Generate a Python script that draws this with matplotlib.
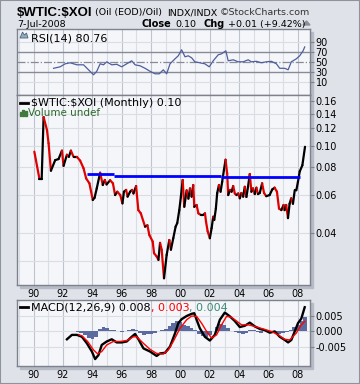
import numpy as np
import matplotlib
matplotlib.use("Agg")
import matplotlib.pyplot as plt
from matplotlib.collections import LineCollection
from matplotlib.patches import Rectangle, Polygon
from matplotlib.lines import Line2D
from matplotlib.ticker import NullLocator, FixedLocator

# ---- data ----
main_years = [1990.05, 1990.40, 1990.55, 1990.68, 1990.91, 1991.02, 1991.18, 1991.47, 1991.70, 1991.93,
              1992.04, 1992.27, 1992.40, 1992.54, 1992.72, 1992.95, 1993.17, 1993.40, 1993.58, 1993.80,
              1994.03, 1994.15, 1994.30, 1994.53, 1994.71, 1994.85, 1994.97, 1995.21, 1995.40, 1995.55,
              1995.70, 1995.90, 1996.05, 1996.15, 1996.30, 1996.40, 1996.57, 1996.70, 1996.80, 1996.98,
              1997.13, 1997.30, 1997.59, 1997.75, 1997.88, 1998.11, 1998.20, 1998.38, 1998.50, 1998.61,
              1998.72, 1998.88, 1999.06, 1999.24, 1999.35, 1999.51, 1999.67, 1999.78, 1999.92, 2000.03,
              2000.15, 2000.26, 2000.42, 2000.54, 2000.65, 2000.76, 2000.87, 2000.94, 2001.10, 2001.22,
              2001.38, 2001.56, 2001.67, 2001.74, 2001.85, 2002.00, 2002.12, 2002.23, 2002.30, 2002.41,
              2002.50, 2002.62, 2002.73, 2002.84, 2002.96, 2003.07, 2003.18, 2003.25, 2003.37, 2003.48,
              2003.59, 2003.70, 2003.82, 2003.93, 2004.04, 2004.15, 2004.27, 2004.38, 2004.49, 2004.60,
              2004.72, 2004.83, 2004.94, 2005.06, 2005.17, 2005.28, 2005.40, 2005.56, 2005.69, 2005.84,
              2006.07, 2006.25, 2006.41, 2006.57, 2006.71, 2006.87, 2007.02, 2007.09, 2007.20, 2007.32,
              2007.43, 2007.54, 2007.66, 2007.78, 2007.89, 2008.00, 2008.12, 2008.30, 2008.48]
main_vals = [0.094, 0.0706, 0.0706, 0.135, 0.118, 0.1025, 0.077, 0.086, 0.087, 0.095,
             0.081, 0.091, 0.089, 0.095, 0.089, 0.089, 0.0855, 0.079, 0.071, 0.0675,
             0.0567, 0.058, 0.064, 0.0754, 0.0663, 0.0699, 0.0667, 0.0697, 0.0675, 0.0597,
             0.0618, 0.0597, 0.0547, 0.0618, 0.063, 0.0587, 0.0618, 0.063, 0.0607, 0.0656,
             0.051, 0.0493, 0.0429, 0.0435, 0.0393, 0.0367, 0.0325, 0.0314, 0.0303, 0.0362,
             0.0337, 0.025, 0.0319, 0.0373, 0.0337, 0.038, 0.0429, 0.0445, 0.051, 0.0587,
             0.0699, 0.0528, 0.0627, 0.0575, 0.064, 0.0587, 0.0663, 0.0528, 0.0538, 0.0493,
             0.0485, 0.0485, 0.0493, 0.0452, 0.0409, 0.038, 0.0422, 0.0476, 0.046, 0.0518,
             0.0609, 0.0663, 0.0618, 0.0686, 0.0776, 0.0864, 0.0748, 0.0597, 0.063, 0.0618,
             0.0656, 0.0607, 0.0597, 0.0607, 0.0577, 0.061, 0.0587, 0.0651, 0.0585, 0.0651,
             0.0744, 0.0618, 0.064, 0.0603, 0.0645, 0.0603, 0.061, 0.0675, 0.061, 0.059,
             0.0597, 0.0633, 0.0645, 0.0618, 0.0518, 0.051, 0.0538, 0.051, 0.0538, 0.0469,
             0.0545, 0.0577, 0.0545, 0.0627, 0.0627, 0.0686, 0.0764, 0.0815, 0.0989]

# blue resistance line: step edges and levels
blue_x = [1993.67, 1995.48, 2002.75, 2008.12]
blue_y = [0.0742, 0.0728, 0.0722]

rsi_years = [1991.36, 1991.81, 1992.15, 1992.49, 1992.95, 1993.40, 1993.74, 1994.08, 1994.30, 1994.53,
             1994.76, 1994.98, 1995.32, 1995.66, 1996.00, 1996.34, 1996.68, 1996.91, 1997.25, 1997.59,
             1997.93, 1998.27, 1998.56, 1998.83, 1999.06, 1999.29, 1999.63, 1999.85, 2000.08, 2000.31,
             2000.53, 2000.76, 2000.98, 2001.32, 2001.66, 2001.96, 2002.23, 2002.57, 2002.80, 2003.09,
             2003.25, 2003.59, 2003.93, 2004.27, 2004.61, 2004.83, 2005.17, 2005.51, 2005.85, 2006.19,
             2006.53, 2006.76, 2007.10, 2007.33, 2007.55, 2007.89, 2008.12, 2008.35, 2008.46]
rsi_vals = [38, 41, 47, 49, 45, 45, 35, 25, 32, 47,
            45, 51, 45, 46, 41, 47, 53, 45, 43, 38,
            32, 27, 27, 35, 27, 47, 57, 63, 75, 61,
            63, 59, 51, 49, 47, 41, 53, 65, 67, 73,
            53, 55, 51, 51, 55, 51, 52, 49, 51, 52,
            47, 38, 38, 35, 51, 57, 63, 73, 80.76]

macd_years = [1992.27, 1992.61, 1992.95, 1993.29, 1993.63, 1993.97, 1994.19, 1994.42, 1994.64, 1994.98,
              1995.32, 1995.66, 1996.00, 1996.34, 1996.68, 1996.91, 1997.14, 1997.48, 1997.93, 1998.38,
              1998.61, 1998.95, 1999.29, 1999.63, 1999.85, 2000.08, 2000.42, 2000.76, 2000.94, 2001.10,
              2001.32, 2001.66, 2002.00, 2002.34, 2002.68, 2003.02, 2003.36, 2003.70, 2004.04, 2004.38,
              2004.72, 2005.06, 2005.40, 2005.74, 2006.08, 2006.42, 2006.76, 2007.10, 2007.33, 2007.55,
              2007.78, 2008.00, 2008.23, 2008.46]
macd_vals = [-0.0025, -0.0011, -0.0011, -0.0017, -0.0038, -0.0064, -0.0088, -0.0075, -0.0043, -0.0032,
             -0.0025, -0.0035, -0.0035, -0.0032, -0.0017, -0.0008, -0.0025, -0.0054, -0.0064, -0.0078,
             -0.0070, -0.0068, -0.0048, -0.0006, 0.0026, 0.0039, 0.0049, 0.0056, 0.0058, 0.0037,
             0.0010, -0.0017, -0.0029, -0.0011, 0.0037, 0.0060, 0.0048, 0.0033, 0.0014, 0.0018,
             0.0028, 0.0016, 0.0008, 0.0004, -0.0004, 0.0000, -0.0017, -0.0027, -0.0035, -0.0027,
             0.0000, 0.0026, 0.0041, 0.0077]

signal_years = [1993.10, 1993.29, 1993.68, 1994.08, 1994.35, 1994.64, 1994.98, 1995.43, 1995.89, 1996.34,
                1996.80, 1997.02, 1997.48, 1997.93, 1998.38, 1998.83, 1999.17, 1999.51, 1999.97, 2000.42,
                2000.76, 2001.10, 2001.44, 2001.78, 2002.12, 2002.46, 2002.80, 2003.14, 2003.48, 2003.82,
                2004.16, 2004.61, 2005.06, 2005.62, 2006.19, 2006.65, 2007.10, 2007.44, 2007.89, 2008.23,
                2008.46]
signal_vals = [-0.0011, -0.0014, -0.0032, -0.0059, -0.0071, -0.0064, -0.0043, -0.0032, -0.0032, -0.0029,
               -0.0017, -0.0017, -0.0038, -0.0057, -0.0070, -0.0072, -0.0059, -0.0032, 0.0010, 0.0037,
               0.0049, 0.0048, 0.0026, 0.0000, -0.0021, -0.0011, 0.0021, 0.0048, 0.0045, 0.0033,
               0.0021, 0.0021, 0.0016, 0.0008, 0.0000, -0.0011, -0.0025, -0.0027, -0.0005, 0.0021,
               0.0032]

hist_years = [1993.0 + 0.25 * i for i in range(63)]
hist_vals = [-0.0003, -0.0004, -0.0012, -0.0020, -0.0025, -0.0018, 0.0008, 0.0014, 0.0010, 0.0006,
             0.0004, 0.0001, -0.0002, 0.0002, 0.0004, 0.0007, 0.0005, -0.0006, -0.0010, -0.0009,
             -0.0007, -0.0004, 0.0001, 0.0003, 0.0008, 0.0018, 0.0028, 0.0034, 0.0030, 0.0022,
             0.0018, 0.0012, 0.0003, -0.0008, -0.0015, -0.0017, -0.0010, 0.0002, 0.0015, 0.0025,
             0.0022, 0.0012, 0.0002, -0.0002, -0.0006, -0.0009, -0.0005, 0.0004, 0.0003, -0.0002,
             -0.0004, 0.0000, 0.0002, -0.0003, -0.0006, -0.0008, -0.0006, -0.0002, 0.0005, 0.0014,
             0.0022, 0.0032, 0.0045]

rsi_ticks = [10, 30, 50, 70, 90]
main_ticks = [0.04, 0.06, 0.08, 0.10, 0.12, 0.14, 0.16]
macd_ticks = [-0.005, 0.0, 0.005]
year_ticks = list(range(1990, 2009, 2))

# ---- layout (pixel helpers) ----
W, H = 360, 384
def fx(px):
    return px / W
def fy(py):
    return 1 - py / H

fig = plt.figure(figsize=(3.6, 3.84), dpi=100, facecolor='#dfe2e9')
fig.patches.append(Rectangle((0, 0), 1, 1, transform=fig.transFigure, fill=False,
                             edgecolor='#8e939c', linewidth=1.5, zorder=-2))

XMIN, XMAX = 1988.87, 2008.82
SPINE = '#7d828c'
LIGHT = '#dadde3'
DARK = '#bfc3cb'


def shadow(x0, y0, x1, y1):
    fig.patches.append(Rectangle((fx(x0 + 3), fy(y1 + 3)), (x1 - x0) / W, (y1 - y0) / H,
                                 transform=fig.transFigure, color='#b7bbc5', zorder=-1))


def make_axes(x0, y0, x1, y1):
    ax = fig.add_axes([fx(x0), fy(y1), (x1 - x0) / W, (y1 - y0) / H])
    ax.set_facecolor('#f5f6fa')
    for s in ax.spines.values():
        s.set_color(SPINE)
        s.set_linewidth(1)
    ax.set_xlim(XMIN, XMAX)
    ax.yaxis.tick_right()
    ax.tick_params(axis='y', direction='out', length=3, width=0.8, color=SPINE,
                   labelsize=7, pad=1, labelcolor='black')
    ax.tick_params(axis='x', length=0, labelsize=7, pad=3)
    ax.set_xticks(year_ticks)
    ax.set_xticklabels(['%02d' % (y % 100) for y in year_ticks])
    for yr in range(1989, 2009):
        ax.axvline(yr, color=DARK if yr % 2 == 0 else LIGHT, lw=0.8, zorder=0)
    return ax


shadow(17, 29, 310, 285)
shadow(17, 300, 310, 366)

# ---- RSI panel ----
ax1 = make_axes(17, 29, 310, 95)
ax1.set_ylim(-15.4, 116.6)
ax1.set_yticks(rsi_ticks)
ax1.set_yticklabels([str(t) for t in rsi_ticks])
ax1.tick_params(axis='x', labelbottom=False)
for lv in [10, 90]:
    ax1.axhline(lv, color=LIGHT, lw=0.8, zorder=0)
ax1.axhline(70, color='#868b95', lw=1, zorder=1)
ax1.axhline(30, color='#868b95', lw=1, zorder=1)
ax1.axhline(50, color='#868b95', lw=0.9, ls='-.', zorder=1)
ax1.plot(rsi_years, rsi_vals, color='#4f5e9c', lw=0.9, zorder=3)
ax1.text(0.048, 0.86, 'RSI(14) 80.76', transform=ax1.transAxes, fontsize=8, va='center')
fig.patches.append(Polygon([(fx(20), fy(38)), (fx(22.5), fy(32)), (fx(24.5), fy(35)),
                            (fx(26.5), fy(33)), (fx(28), fy(38))], closed=True,
                           transform=fig.transFigure, facecolor='#8fb3a0', edgecolor='#4f5e9c',
                           lw=0.6, zorder=5))

# ---- main panel ----
ax2 = make_axes(17, 95, 310, 285)
ax2.set_yscale('log')
ax2.set_ylim(0.0233, 0.170)
ax2.yaxis.set_major_locator(FixedLocator(main_ticks))
ax2.yaxis.set_minor_locator(NullLocator())
ax2.set_yticklabels(['%.2f' % t for t in main_ticks])
for lv in main_ticks + [0.03]:
    ax2.axhline(lv, color=LIGHT, lw=0.8, zorder=0)

pts = np.column_stack([main_years, main_vals])
segs = np.stack([pts[:-1], pts[1:]], axis=1)
cols = ['#000000' if b >= a else '#e00000' for a, b in zip(main_vals[:-1], main_vals[1:])]
ax2.add_collection(LineCollection(segs, colors=cols, linewidths=1.6, capstyle='round',
                                  joinstyle='round', zorder=3))
ax2.hlines(blue_y, blue_x[:-1], blue_x[1:], colors='#0000ff', lw=2, zorder=4)

fig.add_artist(Line2D([fx(20), fx(28)], [fy(102.5), fy(102.5)], color='black', lw=2))
fig.text(fx(31), fy(106.5), '$WTIC:$XOI (Monthly) 0.10', fontsize=8, parse_math=False)
for i, hgt in enumerate([4, 6, 5]):
    fig.patches.append(Rectangle((fx(19.5 + i * 2.6), fy(116)), 1.8 / W, hgt / H,
                                 transform=fig.transFigure, color='#3f7a3f', zorder=5))
fig.text(fx(28.5), fy(116.5), 'Volume undef', fontsize=7.5, color='#2e6b2e')

# ---- MACD panel ----
ax3 = make_axes(17, 300, 310, 366)
ax3.set_ylim(-0.011, 0.010)
ax3.set_yticks(macd_ticks)
ax3.set_yticklabels(['%.3f' % t for t in macd_ticks])
for lv in macd_ticks:
    ax3.axhline(lv, color=LIGHT, lw=0.8, zorder=0)
ax3.bar(hist_years, hist_vals, width=0.25, color='#5b6b9f', zorder=2)
ax3.plot(macd_years, macd_vals, color='black', lw=1.7, zorder=4)
ax3.plot(signal_years, signal_vals, color='#ff0000', lw=1, zorder=5)

fig.add_artist(Line2D([fx(19.5), fx(27.5)], [fy(306.5), fy(306.5)], color='black', lw=2))
r = fig.canvas.get_renderer()
x = 31.0
for s, c in [('MACD(12,26,9) 0.008', 'black'), (', 0.003', '#ff0000'), (', 0.004', '#3c8c78')]:
    t = fig.text(fx(x), fy(310.5), s, fontsize=8, color=c)
    x += t.get_window_extent(renderer=r).width

# ---- header ----
fig.text(fx(17), fy(16), '$WTIC:$XOI', fontsize=9.5, weight='bold', family='Liberation Sans',
         parse_math=False)
fig.text(fx(95), fy(15), '(Oil (EOD)/Oil)', fontsize=6.8, parse_math=False)
fig.text(fx(167), fy(15), 'INDX/INDX', fontsize=6.8)
fig.text(fx(310), fy(15), '\u00a9StockCharts.com', fontsize=6.8, ha='right', color='#333333')
fig.text(fx(17), fy(27), '7-Jul-2008', fontsize=6.8)
fig.text(fx(141), fy(27), 'Close', fontsize=7, weight='bold')
fig.text(fx(175), fy(27), '0.10', fontsize=6.8)
fig.text(fx(203), fy(27), 'Chg', fontsize=7, weight='bold')
fig.text(fx(228), fy(27), '+0.01 (+9.42%)', fontsize=6.8)
fig.patches.append(Polygon([(fx(303), fy(25)), (fx(310), fy(25)), (fx(306.5), fy(21))],
                           closed=True, transform=fig.transFigure, color='#8a8f99'))

fig.savefig('out.png', dpi=100, facecolor=fig.get_facecolor())
